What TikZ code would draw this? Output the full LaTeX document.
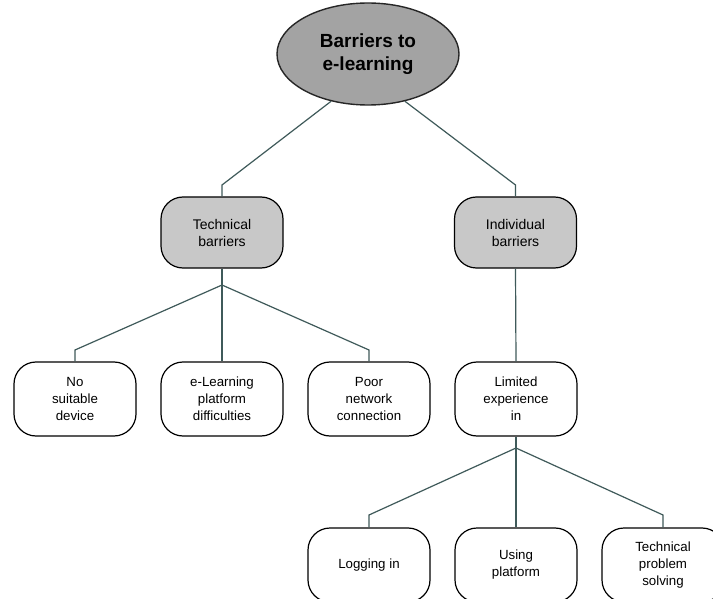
\documentclass[tikz,border=0pt]{standalone}
\usepackage{fontspec}
\setmainfont{Liberation Sans}
\usetikzlibrary{shapes.geometric}
\definecolor{linecol}{HTML}{3F5A5A}
\definecolor{rootfill}{HTML}{A3A3A3}
\definecolor{midfill}{HTML}{C8C8C8}
\tikzset{
  conn/.style={draw=linecol, line width=1.2pt},
  box/.style={draw=black, line width=1.2pt, rounded corners=22pt, minimum width=122pt,
    inner sep=0pt, align=center, font=\fontsize{13.3}{17}\selectfont},
  midbox/.style={box, fill=midfill, minimum height=71pt, font=\fontsize{14}{17}\selectfont},
  leafbox/.style={box, fill=white, minimum height=74pt},
  rootnode/.style={ellipse, draw=black!85, line width=1.4pt, fill=rootfill, minimum width=182pt,
    minimum height=102pt, inner sep=0pt, align=center, font=\fontsize{19}{23}\selectfont\bfseries}
}
\begin{document}
\begin{tikzpicture}[x=1pt,y=-1pt]
\fill[white] (0,0) rectangle (713,599);
\useasboundingbox (0,0) rectangle (713,599);
\clip (0,0) rectangle (713,599);
\node[rootnode] (root) at (368,54) {Barriers to\\e-learning};
\node[midbox] (tech) at (222,232.5) {Technical\\barriers};
\node[midbox] (ind) at (515.5,232.5) {Individual\\barriers};
\node[leafbox] (nsd) at (75,399) {No\\suitable\\device};
\node[leafbox] (elp) at (222,399) {e-Learning\\platform\\difficulties};
\node[leafbox] (pnc) at (369,399) {Poor\\network\\connection};
\node[leafbox] (lim) at (516,399) {Limited\\experience\\in};
\node[leafbox] (log) at (369,565) {Logging in};
\node[leafbox] (use) at (516,565) {Using\\platform};
\node[leafbox] (tps) at (663,565) {Technical\\problem\\solving};
\coordinate (e1) at (222,185);
\coordinate (e2) at (515.5,185);
\coordinate (j1) at (222,285);
\coordinate (a1) at (75,350);
\coordinate (a3) at (369,350);
\coordinate (j2) at (516,448);
\coordinate (b1) at (369,515);
\coordinate (b3) at (663,515);
\draw[conn] (root.232) -- (e1) -- (tech.north);
\draw[conn] (root.308) -- (e2) -- (ind.north);
\draw[conn] (tech.south) -- (j1) -- (elp.north);
\draw[conn] (j1) -- (a1) -- (nsd.north);
\draw[conn] (j1) -- (a3) -- (pnc.north);
\draw[conn] (ind.south) -- (lim.north);
\draw[conn] (lim.south) -- (j2) -- (use.north);
\draw[conn] (j2) -- (b1) -- (log.north);
\draw[conn] (j2) -- (b3) -- (tps.north);
\end{tikzpicture}
\end{document}
